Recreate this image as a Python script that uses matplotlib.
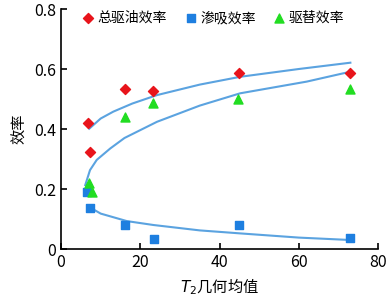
import matplotlib.pyplot as plt

plt.rcParams['font.family'] = ['Noto Sans CJK SC', 'DejaVu Sans']

# measured points
total_x = [6.8, 7.3, 16.2, 23.3, 44.9, 73.0]
total_y = [0.42, 0.324, 0.534, 0.528, 0.586, 0.588]

imb_x = [6.5, 7.3, 16.2, 23.5, 44.9, 73.0]
imb_y = [0.191, 0.136, 0.081, 0.034, 0.079, 0.037]

disp_x = [7.1, 7.7, 16.2, 23.3, 44.7, 73.0]
disp_y = [0.219, 0.191, 0.441, 0.486, 0.501, 0.532]

# fitted curves
fit_total_x = [7.1, 10.0, 13.2, 18.0, 24.2, 35.0, 45.2, 60.0, 73.0]
fit_total_y = [0.401, 0.435, 0.458, 0.485, 0.513, 0.548, 0.574, 0.600, 0.621]

fit_disp_x = [6.1, 7.3, 9.0, 12.4, 16.0, 24.2, 35.0, 45.2, 62.0, 73.0]
fit_disp_y = [0.213, 0.263, 0.297, 0.335, 0.370, 0.424, 0.478, 0.519, 0.558, 0.591]

fit_imb_x = [7.1, 10.0, 16.6, 23.3, 35.0, 45.2, 60.0, 73.0]
fit_imb_y = [0.140, 0.118, 0.093, 0.080, 0.062, 0.052, 0.038, 0.030]

fig = plt.figure(figsize=(3.89, 3.0), dpi=100)
ax = fig.add_axes([0.157, 0.17, 0.815, 0.80])

line_c = '#5ba3e0'
ax.plot(fit_total_x, fit_total_y, color=line_c, lw=1.5)
ax.plot(fit_disp_x, fit_disp_y, color=line_c, lw=1.5)
ax.plot(fit_imb_x, fit_imb_y, color=line_c, lw=1.5)

ax.scatter(total_x, total_y, marker='D', s=26, color='#e8141b', label='总驱油效率', zorder=3)
ax.scatter(imb_x, imb_y, marker='s', s=34, color='#1e7fe0', label='渗吸效率', zorder=3)
ax.scatter(disp_x, disp_y, marker='^', s=42, color='#22dd22', label='驱替效率', zorder=3)

ax.set_xlim(0, 80)
ax.set_ylim(0, 0.8)
ax.set_xticks([0, 20, 40, 60, 80])
ax.set_yticks([0, 0.2, 0.4, 0.6, 0.8])
ax.set_yticklabels(['0', '0.2', '0.4', '0.6', '0.8'])
ax.spines['top'].set_visible(False)
ax.spines['right'].set_visible(False)
for s in ['left', 'bottom']:
    ax.spines[s].set_linewidth(1.2)
ax.tick_params(direction='in', length=4, width=1.2, labelsize=11.5)
ax.set_xlabel('$T_2$几何均值', fontsize=11)
ax.set_ylabel('效率', fontsize=11)

ax.legend(loc='upper left', ncol=3, frameon=False, fontsize=10,
          handlelength=0.8, handletextpad=0.3, columnspacing=1.3,
          borderaxespad=0.1, bbox_to_anchor=(0.045, 1.02))

fig.savefig('out.png', dpi=100)
